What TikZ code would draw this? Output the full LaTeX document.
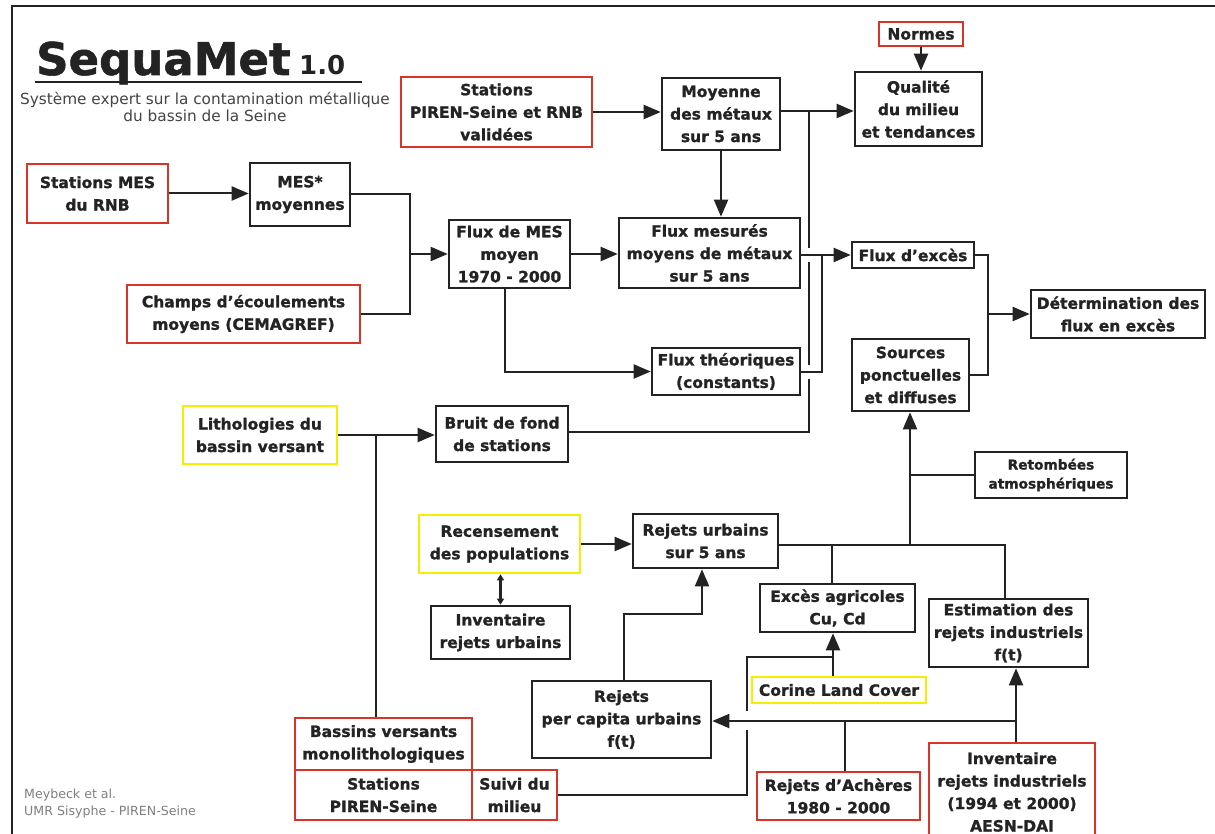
\documentclass[tikz,border=0pt]{standalone}
\usepackage{fontspec}
\setmainfont{DejaVu Sans}
\newfontfamily\heavyfont{DejaVu Sans Bold}[FakeBold=1.2]
\usetikzlibrary{arrows.meta}
\definecolor{redb}{RGB}{218,52,40}
\definecolor{yelb}{RGB}{245,238,0}
\definecolor{ink}{RGB}{35,35,35}
\begin{document}
\begin{tikzpicture}[x=1pt,y=-1pt,
  box/.style={draw=ink, line width=2.6pt, fill=white, inner sep=0pt, align=center,
    font=\fontsize{15.5}{22.5}\selectfont\heavyfont, text=ink},
  rbox/.style={box, draw=redb},
  ybox/.style={box, draw=yelb},
  link/.style={draw=ink, line width=2pt},
  arr/.style={link, -{Triangle[length=17pt,width=14pt]}},
  smallarr/.style={link, line width=2.4pt, {Triangle[length=6pt,width=7pt]}-{Triangle[length=6pt,width=7pt]}}
]
\useasboundingbox (0,0) rectangle (1215,834);
\fill[white] (0,0) rectangle (1215,834);
% frame
\draw[ink, line width=2.5pt] (12,840) -- (12,6) -- (1220,6);

% title
\node[anchor=base west, inner sep=0pt, font=\fontsize{45}{45}\selectfont\heavyfont, text=ink] (title) at (36,75) {SequaMet};
\node[anchor=base west, inner sep=0pt, font=\fontsize{26}{26}\selectfont\bfseries, text=ink] (ver) at (299,75) {1.0};
\draw[ink, line width=2pt] (35,82) -- (362,82);
\node[align=center, inner sep=0pt, font=\fontsize{15.3}{17}\selectfont, text=ink!85] (sub) at (205,107) {Système expert sur la contamination métallique\\du bassin de la Seine};
\node[anchor=west, align=left, inner sep=0pt, font=\fontsize{12.6}{17}\selectfont, text=gray] (foot) at (24,804) {Meybeck et al.\\UMR Sisyphe - PIREN-Seine};

% boxes
\node[rbox, minimum width=141, minimum height=59] (smes) at (97.5,193.5) {Stations MES\\du RNB};
\node[box, minimum width=100, minimum height=63] (mesmoy) at (300,194.5) {MES*\\moyennes};
\node[rbox, minimum width=233, minimum height=58] (champs) at (243.5,314) {Champs d’écoulements\\moyens (CEMAGREF)};
\node[box, minimum width=121, minimum height=68] (fluxmes) at (509.5,254) {Flux de MES\\moyen\\1970 - 2000};
\node[rbox, minimum width=191, minimum height=70] (stpiren) at (496.5,112) {Stations\\PIREN-Seine et RNB\\validées};
\node[box, minimum width=118, minimum height=72] (moyenne) at (721,114) {Moyenne\\des métaux\\sur 5 ans};
\node[box, minimum width=181, minimum height=70] (fluxmesures) at (709.5,253) {Flux mesurés\\moyens de métaux\\sur 5 ans};
\node[box, minimum width=127, minimum height=74] (qualite) at (918.5,109) {Qualité\\du milieu\\et tendances};
\node[rbox, minimum width=84, minimum height=24] (normes) at (921,34) {Normes};
\node[box, minimum width=122, minimum height=26] (fluxexces) at (913,255) {Flux d’excès};
\node[box, minimum width=174, minimum height=48] (determ) at (1118,314) {Détermination des\\flux en excès};
\node[box, minimum width=117, minimum height=72] (sources) at (910.5,375) {Sources\\ponctuelles\\et diffuses};
\node[box, minimum width=148, minimum height=47] (fluxtheo) at (726,371.5) {Flux théoriques\\(constants)};
\node[box, minimum width=132, minimum height=56] (bruit) at (502,434) {Bruit de fond\\de stations};
\node[ybox, minimum width=154, minimum height=58] (litho) at (260,435) {Lithologies du\\bassin versant};
\node[rbox, minimum width=177, minimum height=52] (bassins) at (383.5,744) {Bassins versants\\monolithologiques};
\node[rbox, minimum width=177, minimum height=50] (stpiren2) at (383.5,795) {Stations\\PIREN-Seine};
\node[rbox, minimum width=85, minimum height=50] (suivi) at (514.5,795) {Suivi du\\milieu};
\node[ybox, minimum width=161, minimum height=58] (recens) at (499.5,544) {Recensement\\des populations};
\node[box, minimum width=145, minimum height=54] (rejurb) at (705.5,541) {Rejets urbains\\sur 5 ans};
\node[box, minimum width=139, minimum height=53] (invurb) at (500.5,632.5) {Inventaire\\rejets urbains};
\node[box, minimum width=179, minimum height=77] (percap) at (621.5,719.5) {Rejets\\per capita urbains\\f(t)};
\node[box, minimum width=155, minimum height=48] (excesagr) at (837.5,608) {Excès agricoles\\Cu, Cd};
\node[box, minimum width=152, minimum height=46, font=\fontsize{13.7}{19}\selectfont\heavyfont] (retomb) at (1051,475) {Retombées\\atmosphériques};
\node[box, minimum width=159, minimum height=68] (estim) at (1008.5,633) {Estimation des\\rejets industriels\\f(t)};
\node[ybox, minimum width=174, minimum height=26] (corine) at (839,690) {Corine Land Cover};
\node[rbox, minimum width=163, minimum height=48] (acheres) at (838.5,796) {Rejets d’Achères\\1980 - 2000};
\node[rbox, minimum width=166, minimum height=98] (invind) at (1012,792) {Inventaire\\rejets industriels\\(1994 et 2000)\\AESN-DAI};

% junction coordinates
\coordinate (j1) at (410,254);
\coordinate (jq) at (809,111);
\coordinate (jx) at (822,255);
\coordinate (jb) at (809,432);
\coordinate (jd) at (988,314);
\coordinate (jl) at (376,435);
\coordinate (jp) at (702,614);
\coordinate (js) at (910,545);
\coordinate (jc) at (833,657);
\coordinate (ji) at (1016,721);
\coordinate (ja) at (845,721);
\coordinate (g1) at (809,379);
\coordinate (g2) at (809,365);
\coordinate (g3) at (809,262);
\coordinate (g4) at (809,248);
\coordinate (g5) at (747,730);
\coordinate (g6) at (747,711);

% connectors
\draw[arr] (smes.east) -- (smes.east -| mesmoy.west);
\draw[link] (mesmoy.east) -| (j1);
\draw[link] (champs.east) -| (j1);
\draw[arr] (j1) -- (fluxmes.west);
\draw[arr] (stpiren.east) -- (stpiren.east -| moyenne.west);
\draw[arr] (moyenne.east |- jq) -- (qualite.west |- jq);
\draw[arr] (moyenne.south) -- (moyenne.south |- fluxmesures.north);
\draw[arr] (fluxmes.east) -- (fluxmes.east -| fluxmesures.west);
\draw[arr] (normes.south) -- (normes.south |- qualite.north);
\draw[arr] (fluxmesures.east |- jx) -- (fluxexces.west |- jx);
\draw[link] (fluxtheo.east) -| (jx);
\draw[link] (bruit.east |- jb) -- (jb) -- (g1);
\draw[link] (g2) -- (g3);
\draw[link] (g4) -- (jq);
\draw[link] (fluxexces.east) -| (jd);
\draw[link] (sources.east) -| (jd);
\draw[arr] (jd) -- (determ.west);
\draw[arr] ([xshift=-4.5pt]fluxmes.south) |- (fluxtheo.west);
\draw[arr] (litho.east) -- (litho.east -| bruit.west);
\draw[link] (jl) -- (jl |- bassins.north);
\draw[arr] (recens.east) -- (recens.east -| rejurb.west);
\draw[smallarr] (invurb.north) -- (invurb.north |- recens.south);
\draw[arr] ([xshift=2.5pt]percap.north) |- (jp) -- (jp |- rejurb.south);
\draw[link] (rejurb.east |- js) -| ([xshift=-3.5pt]estim.north);
\draw[link] ([xshift=-5.5pt]excesagr.north) -- ([xshift=-5.5pt]excesagr.north |- js);
\draw[arr] (js) -- (js |- sources.south);
\draw[link] (retomb.west) -- (retomb.west -| js);
\draw[arr] (corine.north -| jc) -- (excesagr.south -| jc);
\draw[link] (suivi.east) -| (g5);
\draw[link] (g6) |- (jc);
\draw[arr] (invind.north -| ji) -- (estim.south -| ji);
\draw[arr] (ji) -- (percap.east |- ji);
\draw[link] (acheres.north -| ja) -- (ja);
\end{tikzpicture}
\end{document}
